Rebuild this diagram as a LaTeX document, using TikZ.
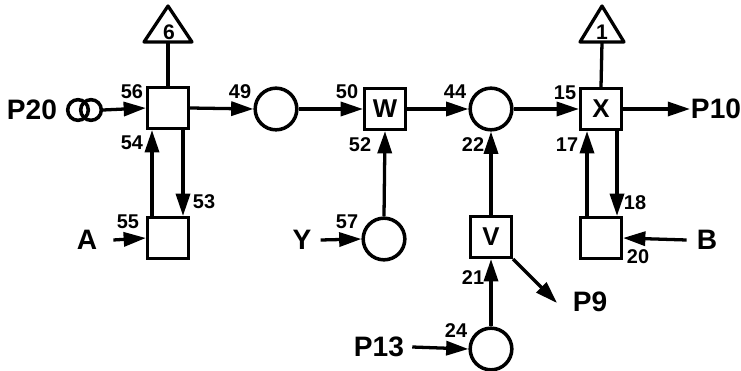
\documentclass[tikz,border=0pt]{standalone}
\usepackage{fontspec}
\setmainfont{Liberation Sans}
\usetikzlibrary{calc,positioning,arrows.meta}
\tikzset{Block/.style={draw,line width=3pt,minimum size=1.22cm,inner sep=0pt,font=\fontsize{22}{22}\selectfont\bfseries}}
\tikzset{Pool/.style={draw,circle,line width=3pt,minimum size=1.25cm,inner sep=0pt}}
\tikzset{Pump/.style={draw,circle,line width=3pt,minimum size=0.62cm,inner sep=0pt}}
\tikzset{Tag/.style={inner sep=0pt,font=\fontsize{17}{17}\selectfont\bfseries}}
\tikzset{Ext/.style={inner sep=0pt,font=\fontsize{24}{24}\selectfont\bfseries}}
\tikzset{Flow/.style={line width=2.8pt,-{Triangle[length=19pt,width=12pt]}}}
\tikzset{Wire/.style={line width=2.8pt}}

\begin{document}
\begin{tikzpicture}[x=0.03cm,y=-0.03cm]
            \useasboundingbox (0,0) rectangle (741,371);
            % blocks and pools
            \node[Block] (b56) at (168,108) {};
            \node[Block] (b55) at (168,238) {};
            \node[Pool] (c49) at (276,109) {};
            \node[Block] (bW) at (385,109) {W};
            \node[Pool] (c57) at (384,239) {};
            \node[Pool] (c22) at (491,109) {};
            \node[Block] (bV) at (491,237) {V};
            \node[Pool] (c24) at (491,349) {};
            \node[Block] (bX) at (601,109) {X};
            \node[Block] (b20) at (601,238) {};
            \node[Pump] (pa) at (78,110) {};
            \node[Pump] (pb) at (91,110) {};
            % triangles
            \coordinate (t6a) at (168,6);
            \coordinate (t6l) at (144,42);
            \coordinate (t6r) at (192,42);
            \coordinate (t6b) at (168,42);
            \draw[Wire,line join=round] (t6a) -- (t6r) -- (t6l) -- cycle;
            \node[Ext,font=\fontsize{18}{18}\selectfont\bfseries] (n6) at (169,32) {6};
            \coordinate (t1a) at (602,6);
            \coordinate (t1l) at (580,42);
            \coordinate (t1r) at (624,42);
            \coordinate (t1b) at (602,42);
            \draw[Wire,line join=round] (t1a) -- (t1r) -- (t1l) -- cycle;
            \node[Ext,font=\fontsize{18}{18}\selectfont\bfseries] (n1) at (602,32) {1};
            % outside names
            \node[Ext] (P20) at (32,110) {P20};
            \node[Ext] (A) at (87,240) {A};
            \node[Ext] (Y) at (302,240) {Y};
            \node[Ext] (P13) at (379,347) {P13};
            \node[Ext] (P9) at (590,302) {P9};
            \node[Ext] (P10) at (716,109) {P10};
            \node[Ext] (B) at (707,240) {B};
            \coordinate (e9) at (557,303);
            \coordinate (e10) at (690,109);
            % stream numbers
            \node[Tag] (l56) at (132,92) {56};
            \node[Tag] (l49) at (240,92) {49};
            \node[Tag] (l54) at (132,143) {54};
            \node[Tag] (l53) at (204,202) {53};
            \node[Tag] (l55) at (128,222) {55};
            \node[Tag] (l50) at (347,92) {50};
            \node[Tag] (l52) at (360,145) {52};
            \node[Tag] (l57) at (347,222) {57};
            \node[Tag] (l44) at (455,92) {44};
            \node[Tag] (l22) at (473,145) {22};
            \node[Tag] (l21) at (473,278) {21};
            \node[Tag] (l24) at (456,331) {24};
            \node[Tag] (l15) at (565,93) {15};
            \node[Tag] (l17) at (567,145) {17};
            \node[Tag] (l18) at (635,203) {18};
            \node[Tag] (l20) at (638,257) {20};
            % streams
            \draw[Wire] (b56.north) -- (t6b);
            \draw[Wire] (bX.north) -- (t1b);
            \draw[Flow] (pb.east) -- (b56.west);
            \draw[Flow] (b56.east) -- (c49.west);
            \draw[Flow] ($(b55.north)+(-16,0)$) -- ($(b56.south)+(-16,0)$);
            \draw[Flow] ($(b56.south)+(15,0)$) -- ($(b55.north)+(15,0)$);
            \draw[Flow] ($(A.east)+(16,0)$) -- (b55.west);
            \draw[Flow] (c49.east) -- (bW.west);
            \draw[Flow] (c57.north) -- (bW.south);
            \draw[Flow] ($(Y.east)+(9,0)$) -- (c57.west);
            \draw[Flow] (bW.east) -- (c22.west);
            \draw[Flow] (bV.north) -- (c22.south);
            \draw[Flow] (c24.north) -- (bV.south);
            \draw[Flow] ($(P13.east)+(8,0)$) -- (c24.west);
            \draw[Flow] (bV.south east) -- (e9);
            \draw[Flow] (c22.east) -- (bX.west);
            \draw[Flow] (bX.east) -- (e10);
            \draw[Flow] ($(b20.north)+(-14,0)$) -- ($(bX.south)+(-14,0)$);
            \draw[Flow] ($(bX.south)+(16,0)$) -- ($(b20.north)+(16,0)$);
            \draw[Flow] ($(B.west)+(-10,0)$) -- (b20.east);
\end{tikzpicture}
\end{document}
